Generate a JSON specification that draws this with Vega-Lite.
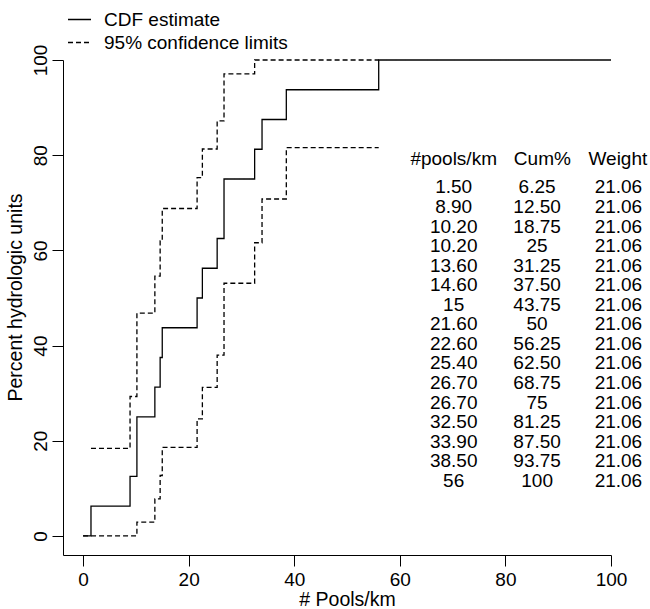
{
  "$schema": "https://vega.github.io/schema/vega-lite/v6.json",
  "autosize": {"type": "none"},
  "padding": {"left": 63, "top": 60, "right": 39, "bottom": 54},
  "width": 548,
  "height": 495,
  "background": "white",
  "config": {
    "font": "Liberation Sans",
    "view": {"stroke": null},
    "axis": {
      "grid": false,
      "domainColor": "black",
      "domainWidth": 1,
      "tickColor": "black",
      "tickWidth": 1,
      "tickSize": 11,
      "labelColor": "black",
      "labelFontSize": 19,
      "titleColor": "black",
      "titleFontSize": 19.5,
      "titleFontWeight": "normal",
      "labelFlush": false,
      "labelOverlap": false
    },
    "legend": {
      "orient": "none",
      "legendX": 4,
      "legendY": -53,
      "symbolType": "stroke",
      "symbolSize": 529,
      "symbolStrokeWidth": 1.3,
      "symbolStrokeColor": "black",
      "labelFontSize": 19,
      "labelColor": "black",
      "labelOffset": 12,
      "labelLimit": 0,
      "rowPadding": -6
    }
  },
  "datasets": {
    "cdf": [
      {"curve": "estimate", "kind": "CDF estimate", "x": 0, "y": 0},
      {"curve": "estimate", "kind": "CDF estimate", "x": 1.5, "y": 6.25},
      {"curve": "estimate", "kind": "CDF estimate", "x": 8.9, "y": 12.5},
      {"curve": "estimate", "kind": "CDF estimate", "x": 10.2, "y": 18.75},
      {"curve": "estimate", "kind": "CDF estimate", "x": 10.2, "y": 25},
      {"curve": "estimate", "kind": "CDF estimate", "x": 13.6, "y": 31.25},
      {"curve": "estimate", "kind": "CDF estimate", "x": 14.6, "y": 37.5},
      {"curve": "estimate", "kind": "CDF estimate", "x": 15, "y": 43.75},
      {"curve": "estimate", "kind": "CDF estimate", "x": 21.6, "y": 50},
      {"curve": "estimate", "kind": "CDF estimate", "x": 22.6, "y": 56.25},
      {"curve": "estimate", "kind": "CDF estimate", "x": 25.4, "y": 62.5},
      {"curve": "estimate", "kind": "CDF estimate", "x": 26.7, "y": 68.75},
      {"curve": "estimate", "kind": "CDF estimate", "x": 26.7, "y": 75},
      {"curve": "estimate", "kind": "CDF estimate", "x": 32.5, "y": 81.25},
      {"curve": "estimate", "kind": "CDF estimate", "x": 33.9, "y": 87.5},
      {"curve": "estimate", "kind": "CDF estimate", "x": 38.5, "y": 93.75},
      {"curve": "estimate", "kind": "CDF estimate", "x": 56, "y": 100},
      {"curve": "estimate", "kind": "CDF estimate", "x": 100, "y": 100},
      {"curve": "lower", "kind": "95% confidence limits", "x": 0, "y": 0},
      {"curve": "lower", "kind": "95% confidence limits", "x": 1.5, "y": 0},
      {"curve": "lower", "kind": "95% confidence limits", "x": 8.9, "y": 0},
      {"curve": "lower", "kind": "95% confidence limits", "x": 10.2, "y": 1.5},
      {"curve": "lower", "kind": "95% confidence limits", "x": 10.2, "y": 2.9},
      {"curve": "lower", "kind": "95% confidence limits", "x": 13.6, "y": 7.8},
      {"curve": "lower", "kind": "95% confidence limits", "x": 14.6, "y": 12.7},
      {"curve": "lower", "kind": "95% confidence limits", "x": 15, "y": 18.6},
      {"curve": "lower", "kind": "95% confidence limits", "x": 21.6, "y": 24.6},
      {"curve": "lower", "kind": "95% confidence limits", "x": 22.6, "y": 31.2},
      {"curve": "lower", "kind": "95% confidence limits", "x": 25.4, "y": 38.0},
      {"curve": "lower", "kind": "95% confidence limits", "x": 26.7, "y": 45.5},
      {"curve": "lower", "kind": "95% confidence limits", "x": 26.7, "y": 53.1},
      {"curve": "lower", "kind": "95% confidence limits", "x": 32.5, "y": 61.6},
      {"curve": "lower", "kind": "95% confidence limits", "x": 33.9, "y": 70.8},
      {"curve": "lower", "kind": "95% confidence limits", "x": 38.5, "y": 81.6},
      {"curve": "lower", "kind": "95% confidence limits", "x": 56, "y": 81.6},
      {"curve": "upper", "kind": "95% confidence limits", "x": 1.5, "y": 18.4},
      {"curve": "upper", "kind": "95% confidence limits", "x": 8.9, "y": 29.3},
      {"curve": "upper", "kind": "95% confidence limits", "x": 10.2, "y": 38},
      {"curve": "upper", "kind": "95% confidence limits", "x": 10.2, "y": 46.8},
      {"curve": "upper", "kind": "95% confidence limits", "x": 13.6, "y": 54.6},
      {"curve": "upper", "kind": "95% confidence limits", "x": 14.6, "y": 62},
      {"curve": "upper", "kind": "95% confidence limits", "x": 15, "y": 68.8},
      {"curve": "upper", "kind": "95% confidence limits", "x": 21.6, "y": 75.3},
      {"curve": "upper", "kind": "95% confidence limits", "x": 22.6, "y": 81.3},
      {"curve": "upper", "kind": "95% confidence limits", "x": 25.4, "y": 87.2},
      {"curve": "upper", "kind": "95% confidence limits", "x": 26.7, "y": 92},
      {"curve": "upper", "kind": "95% confidence limits", "x": 26.7, "y": 97.1},
      {"curve": "upper", "kind": "95% confidence limits", "x": 32.5, "y": 100},
      {"curve": "upper", "kind": "95% confidence limits", "x": 33.9, "y": 100},
      {"curve": "upper", "kind": "95% confidence limits", "x": 38.5, "y": 100},
      {"curve": "upper", "kind": "95% confidence limits", "x": 56, "y": 100}
    ],
    "table": [
      {"rank": 1, "pools": "1.50", "cum": "6.25", "weight": "21.06"},
      {"rank": 2, "pools": "8.90", "cum": "12.50", "weight": "21.06"},
      {"rank": 3, "pools": "10.20", "cum": "18.75", "weight": "21.06"},
      {"rank": 4, "pools": "10.20", "cum": "25", "weight": "21.06"},
      {"rank": 5, "pools": "13.60", "cum": "31.25", "weight": "21.06"},
      {"rank": 6, "pools": "14.60", "cum": "37.50", "weight": "21.06"},
      {"rank": 7, "pools": "15", "cum": "43.75", "weight": "21.06"},
      {"rank": 8, "pools": "21.60", "cum": "50", "weight": "21.06"},
      {"rank": 9, "pools": "22.60", "cum": "56.25", "weight": "21.06"},
      {"rank": 10, "pools": "25.40", "cum": "62.50", "weight": "21.06"},
      {"rank": 11, "pools": "26.70", "cum": "68.75", "weight": "21.06"},
      {"rank": 12, "pools": "26.70", "cum": "75", "weight": "21.06"},
      {"rank": 13, "pools": "32.50", "cum": "81.25", "weight": "21.06"},
      {"rank": 14, "pools": "33.90", "cum": "87.50", "weight": "21.06"},
      {"rank": 15, "pools": "38.50", "cum": "93.75", "weight": "21.06"},
      {"rank": 16, "pools": "56", "cum": "100", "weight": "21.06"}
    ],
    "header": [
      {"rank": -0.45, "pools": "#pools/km", "cum": "Cum%", "weight": "Weight"}
    ]
  },
  "layer": [
    {
      "data": {"name": "cdf"},
      "mark": {"type": "line", "interpolate": "step-after", "color": "black", "strokeWidth": 1.3},
      "encoding": {
        "x": {
          "field": "x", "type": "quantitative",
          "scale": {"domain": [-3.8, 100], "nice": false, "zero": false},
          "axis": {"values": [0, 20, 40, 60, 80, 100], "title": "# Pools/km", "labelPadding": 4, "titlePadding": 1, "titleX": 284}
        },
        "y": {
          "field": "y", "type": "quantitative",
          "scale": {"domain": [-4, 100], "nice": false, "zero": false},
          "axis": {"values": [0, 20, 40, 60, 80, 100], "title": "Percent hydrologic units", "labelAngle": 270, "labelAlign": "center", "labelBaseline": "bottom", "labelPadding": 2, "titlePadding": 6, "titleY": 237}
        },
        "strokeDash": {
          "field": "kind", "type": "nominal",
          "scale": {"domain": ["CDF estimate", "95% confidence limits"], "range": [[1, 0], [5, 3]]},
          "legend": {"title": null}
        },
        "detail": {"field": "curve"}
      }
    },
    {
      "layer": [
        {
          "data": {"name": "table"},
          "mark": {"type": "text", "fontSize": 19, "color": "black", "align": "center", "baseline": "middle"},
          "encoding": {
            "x": {"datum": 70.2, "type": "quantitative", "scale": {"domain": [-3.8, 100], "nice": false, "zero": false}},
            "y": {"field": "rank", "type": "quantitative", "scale": {"domain": [19.8, -5.52], "nice": false, "zero": false}, "axis": null},
            "text": {"field": "pools"}
          }
        },
        {
          "data": {"name": "table"},
          "mark": {"type": "text", "fontSize": 19, "color": "black", "align": "center", "baseline": "middle"},
          "encoding": {
            "x": {"datum": 86.0, "type": "quantitative"},
            "y": {"field": "rank", "type": "quantitative", "axis": null},
            "text": {"field": "cum"}
          }
        },
        {
          "data": {"name": "table"},
          "mark": {"type": "text", "fontSize": 19, "color": "black", "align": "center", "baseline": "middle"},
          "encoding": {
            "x": {"datum": 101.4, "type": "quantitative"},
            "y": {"field": "rank", "type": "quantitative", "axis": null},
            "text": {"field": "weight"}
          }
        },
        {
          "data": {"name": "header"},
          "mark": {"type": "text", "fontSize": 19, "color": "black", "align": "center", "baseline": "middle"},
          "encoding": {
            "x": {"datum": 70.2, "type": "quantitative"},
            "y": {"field": "rank", "type": "quantitative", "axis": null},
            "text": {"field": "pools"}
          }
        },
        {
          "data": {"name": "header"},
          "mark": {"type": "text", "fontSize": 19, "color": "black", "align": "center", "baseline": "middle"},
          "encoding": {
            "x": {"datum": 87.0, "type": "quantitative"},
            "y": {"field": "rank", "type": "quantitative", "axis": null},
            "text": {"field": "cum"}
          }
        },
        {
          "data": {"name": "header"},
          "mark": {"type": "text", "fontSize": 19, "color": "black", "align": "center", "baseline": "middle"},
          "encoding": {
            "x": {"datum": 101.3, "type": "quantitative"},
            "y": {"field": "rank", "type": "quantitative", "axis": null},
            "text": {"field": "weight"}
          }
        }
      ]
    }
  ],
  "resolve": {"scale": {"y": "independent"}}
}
